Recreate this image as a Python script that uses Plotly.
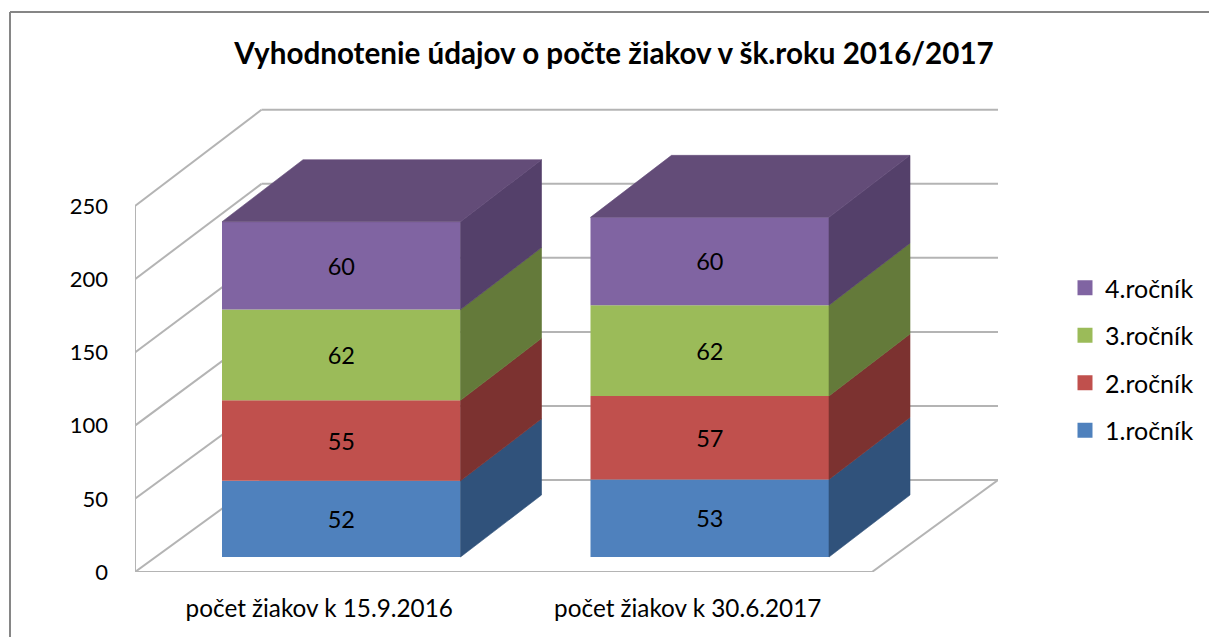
import plotly.graph_objects as go

categories = ["počet žiakov k 15.9.2016", "počet žiakov k 30.6.2017"]
series_names = ["1.ročník", "2.ročník", "3.ročník", "4.ročník"]
rocnik1 = [52, 53]
rocnik2 = [55, 57]
rocnik3 = [62, 62]
rocnik4 = [60, 60]
series_values = [rocnik1, rocnik2, rocnik3, rocnik4]
y_ticks = [0, 50, 100, 150, 200, 250]
front_colors = ["#4F81BD", "#C0504D", "#9BBB59", "#8064A2"]
side_colors = ["#30527B", "#7C3230", "#647A3A", "#54406A"]
top_color = "#634C78"
title_text = "Vyhodnotenie údajov o počte žiakov v šk.roku 2016/2017"

W, H = 1209, 637
L, R, T, B = 135, 998, 90, 572
PX_PER_VAL = 1.464
PX_PER_CAT = 368.5
LABEL_SHIFT = 22 / PX_PER_CAT
Y_MAX = (B - T) / PX_PER_VAL
X_MIN = -0.5 - LABEL_SHIFT
X_MAX = X_MIN + (R - L) / PX_PER_CAT
FONT = "Lato, Carlito, sans-serif"
GRID = "#B4B4B4"

# oblique projection of the pseudo-3D box
WALL_DX = 126.5 / PX_PER_CAT
WALL_DY = 92 / PX_PER_VAL
BAR_W = 238.5 / PX_PER_CAT
BAR_DX = 81 / PX_PER_CAT
BAR_DY = 62 / PX_PER_VAL
BAR_FLOOR = 15 / PX_PER_VAL

fig = go.Figure()
base = [BAR_FLOOR] * len(categories)
for name, vals, fc, sc in zip(series_names, series_values, front_colors, side_colors):
    fig.add_trace(go.Bar(
        x=list(range(len(categories))), y=vals, base=base, width=BAR_W,
        marker=dict(color=fc, line=dict(width=0)), showlegend=False,
        text=[str(v) for v in vals], textposition="inside", insidetextanchor="middle",
        textangle=0, textfont=dict(family=FONT, size=23.5, color="#000000"),
        constraintext="none", hoverinfo="skip",
    ))
    for i, v in enumerate(vals):
        xr = i + BAR_W / 2
        y0, y1 = base[i], base[i] + v
        fig.add_trace(go.Scatter(
            x=[xr, xr + BAR_DX, xr + BAR_DX, xr, xr],
            y=[y0, y0 + BAR_DY, y1 + BAR_DY, y1, y0],
            mode="lines", fill="toself", fillcolor=sc, line=dict(width=0.6, color=sc),
            showlegend=False, hoverinfo="skip",
        ))
    base = [b + v for b, v in zip(base, vals)]

for i, top in enumerate(base):
    xl, xr = i - BAR_W / 2, i + BAR_W / 2
    fig.add_trace(go.Scatter(
        x=[xl, xr, xr + BAR_DX, xl + BAR_DX, xl],
        y=[top, top, top + BAR_DY, top + BAR_DY, top],
        mode="lines", fill="toself", fillcolor=top_color, line=dict(width=0.6, color=top_color),
        showlegend=False, hoverinfo="skip",
    ))

# legend keys, top entry first
for name, fc in reversed(list(zip(series_names, front_colors))):
    fig.add_trace(go.Scatter(
        x=[None], y=[None], name=name, mode="markers", legendgroup=name,
        marker=dict(symbol="square", size=15, color=fc), hoverinfo="skip",
    ))

# walls and floor
shapes = []
def seg(x0, y0, x1, y1):
    shapes.append(dict(type="line", xref="x", yref="y", x0=x0, y0=y0, x1=x1, y1=y1,
                       layer="below", line=dict(color=GRID, width=2)))
for t in y_ticks:
    back = WALL_DY + t * 1.0115
    seg(X_MIN, t, X_MIN + WALL_DX, back)
    seg(X_MIN + WALL_DX, back, X_MAX, back)
seg(X_MIN, 0, X_MIN, y_ticks[-1])
x_front_end = X_MIN + len(categories)
seg(X_MIN, 0, x_front_end, 0)
seg(x_front_end, 0, X_MAX, WALL_DY)

# outer chart border, cropped by the window
px_x = lambda p: (p - L) / (R - L)
px_y = lambda p: (B - p) / (B - T)
for x0, y0, x1, y1 in [(10, 12, W, 12), (10, 12, 10, H)]:
    shapes.append(dict(type="line", xref="paper", yref="paper",
                       x0=px_x(x0), y0=px_y(y0), x1=px_x(x1), y1=px_y(y1),
                       layer="below", line=dict(color="#868686", width=2)))

fig.update_layout(
    width=W, height=H, autosize=False,
    margin=dict(l=L, r=W - R, t=T, b=H - B),
    paper_bgcolor="white", plot_bgcolor="white",
    barmode="overlay", shapes=shapes,
    title=dict(text=f"<b>{title_text}</b>", x=614 / W, xanchor="center", xref="container",
               y=1 - 54 / H, yanchor="middle", yref="container",
               font=dict(family=FONT, size=29.6, color="#000000")),
    xaxis=dict(range=[X_MIN, X_MAX], tickmode="array",
               tickvals=[i - LABEL_SHIFT for i in range(len(categories))],
               ticktext=categories, showgrid=False, zeroline=False, showline=False, ticks="",
               ticklabelstandoff=20, tickfont=dict(family=FONT, size=24.3, color="#000000"),
               fixedrange=True),
    yaxis=dict(range=[0, Y_MAX], tickmode="array", tickvals=y_ticks, showgrid=False,
               zeroline=False, showline=False, ticks="", ticklabelstandoff=26,
               tickfont=dict(family=FONT, size=22, color="#000000"), fixedrange=True),
    legend=dict(xref="container", yref="container", x=1065 / W, xanchor="left",
                y=1 - 265 / H, yanchor="top", traceorder="grouped", tracegroupgap=12,
                font=dict(family=FONT, size=25, color="#000000"), bgcolor="rgba(0,0,0,0)",
                itemwidth=30),
)
fig.write_html("out.html", config={"displayModeBar": False},
               post_script="document.body.style.margin='0';document.documentElement.style.overflow='hidden';")
